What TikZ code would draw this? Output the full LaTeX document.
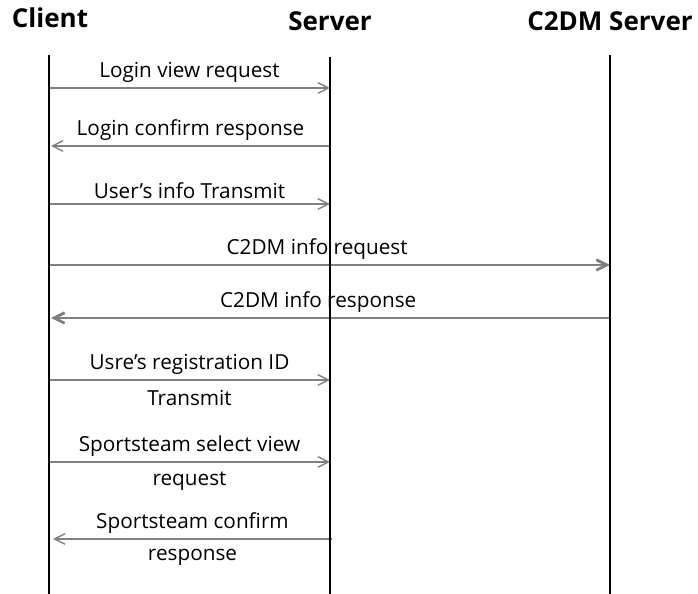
\documentclass[tikz,border=0pt]{standalone}
\usepackage{fontspec}
\setmainfont{Open Sans}
\usetikzlibrary{arrows.meta}
\begin{document}
\begin{tikzpicture}[x=0.02cm,y=-0.02cm,
    seqHead/.style={font=\bfseries\fontsize{14.8}{17}\selectfont},
    seqLife/.style={line width=1.7pt,black},
    seqMsg/.style={-{Straight Barb[length=6pt,width=6pt]},gray,line width=0.8pt},
    seqMsgThick/.style={seqMsg,line width=1.6pt},
    seqLbl/.style={font=\fontsize{11.8}{14}\selectfont,text=black,inner sep=2.5pt},
    seqLblLow/.style={seqLbl,below,yshift=-0.1cm},
]
\useasboundingbox (0,0) rectangle (698,594);
% Heads and lifelines
\node[seqHead] (client) at (50,18) {Client};
\node[seqHead] (server) at (330,21) {Server};
\node[seqHead] (c2dm) at (610,21) {C2DM Server};
\coordinate (clientTop) at (49,55);
\coordinate (clientBot) at (49,594);
\coordinate (serverTop) at (330,57);
\coordinate (serverBot) at (330,594);
\coordinate (c2dmTop) at (610,55);
\coordinate (c2dmBot) at (610,594);
% Client <-> Server
\coordinate (c1) at (49,88);  \coordinate (s1) at (330,88);
\coordinate (c2) at (51,146); \coordinate (s2) at (330,146);
\coordinate (c3) at (49,204); \coordinate (s3) at (330,204);
\draw[seqMsg] (c1) -- (s1) node[midway,above,seqLbl] {Login view request};
\draw[seqMsg] (s2) -- (c2) node[midway,above,seqLbl] {Login confirm response};
\draw[seqMsg] (c3) -- (s3) node[midway,above,seqLbl] {User's info Transmit};
% Client <-> C2DM server
\coordinate (c4) at (49,265); \coordinate (g4) at (610,265);
\coordinate (c5) at (51,318); \coordinate (g5) at (610,318);
\draw[seqMsgThick] (c4) -- (g4) node[pos=0.478,above,seqLbl] {C2DM info request};
\draw[seqMsgThick] (g5) -- (c5) node[pos=0.522,above,seqLbl] {C2DM info response};
% Registration and team selection
\coordinate (c6) at (49,380); \coordinate (s6) at (330,380);
\coordinate (c7) at (49,462); \coordinate (s7) at (330,462);
\coordinate (c8) at (53,539); \coordinate (s8) at (332,539);
\draw[seqMsg] (c6) -- (s6) node[midway,above,seqLbl] {Usre's registration ID}
    node[midway,seqLblLow] {Transmit};
\draw[seqMsg] (c7) -- (s7) node[midway,above,seqLbl] {Sportsteam select view}
    node[midway,seqLblLow] {request};
\draw[seqMsg] (s8) -- (c8) node[midway,above,seqLbl] {Sportsteam confirm}
    node[midway,seqLblLow] {response};
% Lifelines on top
\draw[seqLife] (clientTop) -- (clientBot);
\draw[seqLife] (serverTop) -- (serverBot);
\draw[seqLife] (c2dmTop) -- (c2dmBot);
\end{tikzpicture}
\end{document}
